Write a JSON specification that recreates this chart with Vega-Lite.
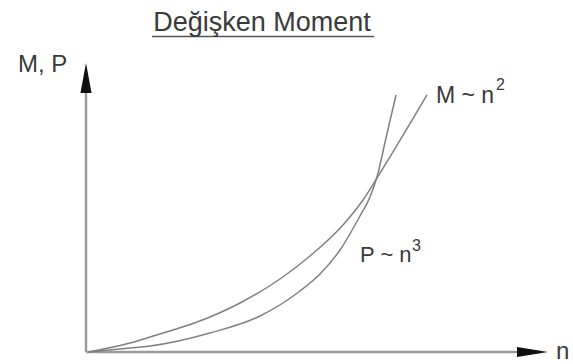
{
  "$schema": "https://vega.github.io/schema/vega-lite/v6.json",
  "width": 462,
  "height": 289,
  "autosize": {"type": "none"},
  "padding": {"left": 86, "top": 63, "right": 25, "bottom": 12},
  "background": "white",
  "view": {"stroke": null},
  "config": {"font": "Liberation Sans"},
  "encoding": {
    "x": {"field": "n", "type": "quantitative", "scale": {"domain": [0, 1.5931], "nice": false, "zero": false}, "axis": null},
    "y": {"field": "v", "type": "quantitative", "scale": {"domain": [0, 1.6514], "nice": false, "zero": false}, "axis": null}
  },
  "layer": [
    {
      "data": {"values": [
        {"n": 0, "v": 0, "n2": 0, "v2": 1.5},
        {"n": 0, "v": 0, "n2": 1.49, "v2": 0}
      ]},
      "mark": {"type": "rule", "color": "#9c9c9c", "strokeWidth": 2.5},
      "encoding": {"x2": {"field": "n2"}, "y2": {"field": "v2"}}
    },
    {
      "data": {"values": [
        {"curve": "M", "n": 0.007, "v": 0},
        {"curve": "M", "n": 0.1517, "v": 0.0514},
        {"curve": "M", "n": 0.2207, "v": 0.0857},
        {"curve": "M", "n": 0.4276, "v": 0.2},
        {"curve": "M", "n": 0.531, "v": 0.28},
        {"curve": "M", "n": 0.669, "v": 0.4171},
        {"curve": "M", "n": 0.7724, "v": 0.5486},
        {"curve": "M", "n": 0.8862, "v": 0.7257},
        {"curve": "M", "n": 0.9552, "v": 0.8686},
        {"curve": "M", "n": 1.0034, "v": 0.9943},
        {"curve": "M", "n": 1.1759, "v": 1.4686},
        {"curve": "P", "n": 0.007, "v": 0},
        {"curve": "P", "n": 0.1517, "v": 0.0229},
        {"curve": "P", "n": 0.2207, "v": 0.0343},
        {"curve": "P", "n": 0.4276, "v": 0.1086},
        {"curve": "P", "n": 0.6, "v": 0.2057},
        {"curve": "P", "n": 0.7379, "v": 0.3486},
        {"curve": "P", "n": 0.8069, "v": 0.4457},
        {"curve": "P", "n": 0.8759, "v": 0.5829},
        {"curve": "P", "n": 0.9448, "v": 0.7771},
        {"curve": "P", "n": 0.9793, "v": 0.8857},
        {"curve": "P", "n": 1.0034, "v": 1.0},
        {"curve": "P", "n": 1.0345, "v": 1.2229},
        {"curve": "P", "n": 1.069, "v": 1.4686}
      ]},
      "mark": {"type": "line", "interpolate": "monotone", "color": "#808080", "strokeWidth": 1.5},
      "encoding": {"detail": {"field": "curve"}}
    },
    {
      "data": {"values": [{"n": 0, "v": 1.5657}]},
      "mark": {"type": "point", "shape": "M0,-1L-0.37,1L0.37,1Z", "size": 900, "filled": true, "color": "#111111", "opacity": 1, "strokeWidth": 0}
    },
    {
      "data": {"values": [{"n": 1.5397, "v": 0}]},
      "mark": {"type": "point", "shape": "M1,0L-1,-0.32L-1,0.32Z", "size": 961, "filled": true, "color": "#111111", "opacity": 1, "strokeWidth": 0}
    },
    {
      "data": {"values": [{"n": 0.2276, "v": 1.8029, "n2": 0.9931, "v2": 1.8029}]},
      "mark": {"type": "rule", "color": "#555555", "strokeWidth": 1.5},
      "encoding": {"x2": {"field": "n2"}, "y2": {"field": "v2"}}
    },
    {
      "data": {"values": [{"label": "Değişken Moment", "n": 0.6069, "v": 1.8343}]},
      "mark": {"type": "text", "align": "center", "baseline": "alphabetic", "fontSize": 27, "color": "#3a3a3a"},
      "encoding": {"text": {"field": "label"}}
    },
    {
      "data": {"values": [
        {"label": "M, P", "n": -0.2345, "v": 1.6},
        {"label": "n", "n": 1.6207, "v": -0.04}
      ]},
      "mark": {"type": "text", "align": "left", "baseline": "alphabetic", "fontSize": 24, "color": "#3a3a3a"},
      "encoding": {"text": {"field": "label"}}
    },
    {
      "data": {"values": [
        {"label": "M ~ n", "n": 1.2069, "v": 1.4229}
      ]},
      "mark": {"type": "text", "align": "left", "baseline": "alphabetic", "fontSize": 23, "color": "#3a3a3a"},
      "encoding": {"text": {"field": "label"}}
    },
    {
      "data": {"values": [
        {"label": "P ~ n", "n": 0.9448, "v": 0.5143}
      ]},
      "mark": {"type": "text", "align": "left", "baseline": "alphabetic", "fontSize": 22, "color": "#3a3a3a"},
      "encoding": {"text": {"field": "label"}}
    },
    {
      "data": {"values": [
        {"label": "2", "n": 1.4138, "v": 1.4971},
        {"label": "3", "n": 1.1241, "v": 0.5771}
      ]},
      "mark": {"type": "text", "align": "left", "baseline": "alphabetic", "fontSize": 16, "color": "#3a3a3a"},
      "encoding": {"text": {"field": "label"}}
    }
  ]
}
